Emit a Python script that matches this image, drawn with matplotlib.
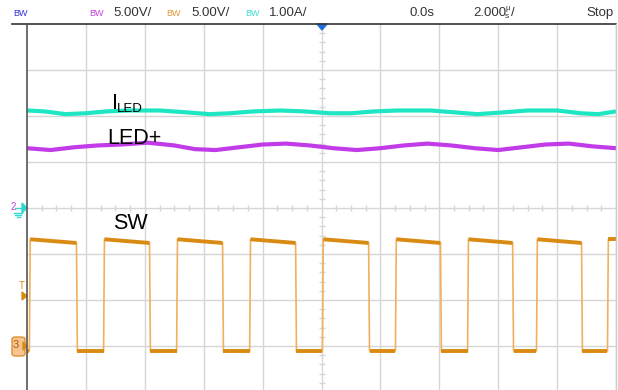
import matplotlib.pyplot as plt
from matplotlib.patches import FancyBboxPatch, Polygon

# scope settings
ch_scale = {"LED+": 5.0, "SW": 5.0, "ILED": 1.0}      # V/div, V/div, A/div
ch_offset = {"LED+": -4.0, "SW": -3.0, "ILED": 0.0}   # ground position, div

# SW edges (us) and levels (V)
sw_rise_us = [-9.92, -7.40, -4.92, -2.44, 0.03, 2.51, 4.96, 7.30, 9.71]
sw_fall_us = [-8.32, -5.84, -3.36, -0.88, 1.60, 4.04, 6.49, 8.83]
sw_high_start_v = 11.6
sw_high_end_v = 11.2
sw_low_v = -0.55

# LED current (A) and LED+ (V) sampled off the screen
iled_t = [-10.0, -9.4, -8.7, -8.0, -7.3, -6.5, -5.5, -4.6, -3.8, -3.1, -2.3,
          -1.4, -0.6, 0.3, 1.0, 1.8, 2.6, 3.7, 4.5, 5.3, 6.2, 7.0, 8.0, 8.8,
          9.4, 10.0]
iled_a = [2.12, 2.10, 2.04, 2.06, 2.10, 2.12, 2.12, 2.08, 2.04, 2.06, 2.10,
          2.12, 2.10, 2.06, 2.06, 2.10, 2.12, 2.12, 2.08, 2.04, 2.08, 2.12,
          2.12, 2.06, 2.04, 2.10]
ledp_t = [-10.0, -9.2, -8.4, -7.6, -6.8, -5.9, -5.0, -4.3, -3.6, -2.8, -2.0,
          -1.2, -0.4, 0.4, 1.2, 2.0, 2.8, 3.6, 4.4, 5.2, 6.0, 6.8, 7.6, 8.4,
          9.2, 10.0]
ledp_v = [26.5, 26.3, 26.6, 26.8, 26.9, 27.1, 26.8, 26.4, 26.3, 26.6, 26.9,
          27.0, 26.8, 26.5, 26.3, 26.5, 26.8, 27.0, 26.8, 26.5, 26.3, 26.6,
          26.9, 27.0, 26.7, 26.5]

W, H = 618, 390


def fx(px):
    return px / W


def fy(py):
    return 1 - py / H


fig = plt.figure(figsize=(6.18, 3.90), dpi=100)
ax = fig.add_axes([fx(27), fy(392), (616 - 27) / W, 368 / H])
ax.set_xlim(-10, 10)
ax.set_ylim(-4, 4)
ax.axis("off")

# graticule
grid_c = "#d6d6d6"
for x in range(-8, 10, 2):
    ax.axvline(x, color=grid_c, lw=1, zorder=1)
for y in range(-3, 4):
    ax.axhline(y, color=grid_c, lw=1, zorder=1)
ax.axvline(10, color=grid_c, lw=1, zorder=1)
minor_x = [i * 0.5 for i in range(-20, 21) if i % 4 != 0]
minor_y = [i * 0.2 for i in range(-20, 21) if i % 5 != 0]
ax.plot(minor_x, [0] * len(minor_x), ls="none", marker="|", ms=5,
        color=grid_c, mew=1, zorder=1)
ax.plot([0] * len(minor_y), minor_y, ls="none", marker="_", ms=5,
        color=grid_c, mew=1, zorder=1)


def to_div(vals, name):
    return [v / ch_scale[name] + ch_offset[name] for v in vals]


# ILED and LED+
ax.plot(iled_t, to_div(iled_a, "ILED"), color="#1ee6c3", lw=3, zorder=3,
        solid_capstyle="butt")
ax.plot(ledp_t, to_div(ledp_v, "LED+"), color="#c23be8", lw=3, zorder=3,
        solid_capstyle="butt")

# SW trace
t_pts = [-10.0]
v_pts = [sw_low_v]
edges = sorted([(t, 1) for t in sw_rise_us] + [(t, 0) for t in sw_fall_us])
for t, rising in edges:
    if rising:
        t_pts += [t, t + 0.03]
        v_pts += [sw_low_v, sw_high_start_v]
    else:
        t_pts += [t, t + 0.03]
        v_pts += [sw_high_end_v, sw_low_v]
t_pts.append(10.0)
v_pts.append(sw_high_start_v)
sw_div = to_div(v_pts, "SW")
ax.plot(t_pts, sw_div, color="#efb060", lw=1.2, zorder=3)
for i in range(len(t_pts) - 1):
    if abs(v_pts[i + 1] - v_pts[i]) < 1.0:
        ax.plot(t_pts[i:i + 2], sw_div[i:i + 2], color="#d98a12", lw=2.8,
                zorder=4, solid_capstyle="butt")

# trace labels
lab = dict(family="Liberation Sans", fontsize=15.5, color="black",
           va="baseline", ha="left", zorder=5)
ax.text(-7.13, 2.15, "I", **lab)
ax.text(-6.96, 2.08, "LED", va="baseline", ha="left",
        family="Liberation Sans", fontsize=9.5, color="black")
ax.text(-7.27, 1.39, "LED+", **lab)
ax.text(-7.08, -0.46, "SW", **lab)

# top status bar
fig.add_artist(plt.Line2D([fx(12), fx(616)], [fy(24), fy(24)],
                          color="#333333", lw=1.2))
fig.add_artist(plt.Line2D([fx(27), fx(27)], [fy(24), fy(390)],
                          color="#555555", lw=1.2))
fig.add_artist(plt.Line2D([fx(616), fx(616)], [fy(24), fy(390)],
                          color="#cccccc", lw=1))
fnt = ["Liberation Sans", "DejaVu Sans"]
bw = dict(family=fnt, fontsize=6.5, va="center")
st = dict(family=fnt, fontsize=9.5, va="center", color="#333333")
fig.text(fx(13), fy(13), "BW", color="#3030d8", **bw)
fig.text(fx(89), fy(13), "BW", color="#c040e0", **bw)
fig.text(fx(113), fy(13), "5.00V/", **st)
fig.text(fx(166), fy(13), "BW", color="#e0983a", **bw)
fig.text(fx(191), fy(13), "5.00V/", **st)
fig.text(fx(245), fy(13), "BW", color="#40e0d0", **bw)
fig.text(fx(269), fy(13), "1.00A/", **st)
fig.text(fx(409), fy(13), "0.0s", **st)
fig.text(fx(473), fy(13), "2.000", **st)
fig.text(fx(505), fy(9), "µ", family=fnt, fontsize=5.5, va="center",
         color="#333333")
fig.text(fx(505), fy(17), "s", family=fnt, fontsize=6, va="center",
         color="#333333")
fig.text(fx(511), fy(13), "/", **st)
fig.text(fx(586), fy(13), "Stop", **st)

# trigger position marker
fig.add_artist(Polygon([[fx(317), fy(24)], [fx(327), fy(24)],
                        [fx(322), fy(30)]], closed=True, color="#1f6fe0"))

# channel 2 ground marker
fig.text(fx(11), fy(207), "2", family=fnt, fontsize=7, color="#c040e0",
         va="center")
fig.add_artist(Polygon([[fx(22), fy(203)], [fx(27), fy(208)],
                        [fx(22), fy(213)]], closed=True, color="#30d8d0"))
fig.add_artist(plt.Line2D([fx(15), fx(22)], [fy(208), fy(208)],
                          color="#30d8d0", lw=1))
for k, hw in enumerate([4, 3, 1.5]):
    fig.add_artist(plt.Line2D([fx(18 - hw), fx(18 + hw)],
                              [fy(213 + 2 * k), fy(213 + 2 * k)],
                              color="#30d8d0", lw=1))

# trigger level marker
fig.text(fx(19), fy(286), "T", family=fnt, fontsize=7, color="#d98a12",
         va="center")
fig.add_artist(Polygon([[fx(22), fy(292)], [fx(27), fy(296)],
                        [fx(22), fy(300)]], closed=True, color="#d98a12"))

# channel 3 ground marker
fig.add_artist(FancyBboxPatch((fx(12), fy(356)), fx(13), 19 / H,
                              boxstyle="round,pad=0,rounding_size=0.006",
                              facecolor="#f7c38f", edgecolor="#e09030",
                              lw=1))
fig.text(fx(13), fy(345), "3", family=fnt, fontsize=8, color="#b06010",
         va="center")
fig.add_artist(Polygon([[fx(23), fy(342)], [fx(27), fy(346)],
                        [fx(23), fy(350)]], closed=True, color="#d98a12"))

fig.savefig("out.png", dpi=100)
